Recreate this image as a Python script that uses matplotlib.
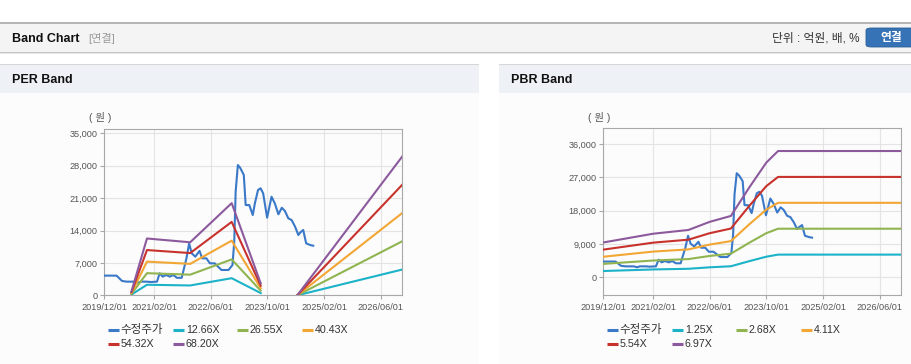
import numpy as np
import pandas as pd
import matplotlib
matplotlib.use("Agg")
import matplotlib.pyplot as plt
import matplotlib.dates as mdates
from matplotlib.patches import Rectangle, FancyBboxPatch
from matplotlib.lines import Line2D
from matplotlib.ticker import FuncFormatter

FONT = ['Liberation Sans', 'Noto Sans CJK KR']
plt.rcParams['font.family'] = FONT

# adjusted share price (수정주가)
price_dates = ['2019-12-01', '2020-03-15', '2020-05-01', '2020-06-10', '2020-08-20', '2020-09-15',
               '2020-10-10', '2020-12-01', '2021-01-01', '2021-02-25', '2021-03-20', '2021-04-15',
               '2021-05-15', '2021-06-15', '2021-07-15', '2021-08-15', '2021-09-25', '2021-11-05',
               '2021-11-28', '2021-12-20', '2022-01-20', '2022-02-25', '2022-03-20', '2022-04-25',
               '2022-05-25', '2022-07-05', '2022-09-01', '2022-11-01', '2022-12-05', '2022-12-20',
               '2023-01-01', '2023-01-20', '2023-02-10', '2023-03-12', '2023-03-28', '2023-04-28',
               '2023-05-28', '2023-06-15', '2023-07-12', '2023-08-03', '2023-08-25', '2023-09-28',
               '2023-11-05', '2023-12-03', '2024-01-03', '2024-02-01', '2024-02-28', '2024-03-28',
               '2024-04-25', '2024-05-25', '2024-06-22', '2024-07-10', '2024-08-03', '2024-08-28',
               '2024-10-01', '2024-10-28']
price = [4250, 4250, 3100, 2950, 2950, 2700,
         2950, 2950, 2870, 2950, 4750, 4030,
         4390, 4030, 4390, 3780, 3780, 7990,
         11230, 9070, 8340, 9600, 7990, 7990,
         6910, 6910, 5470, 5470, 6550, 11580,
         22380, 28150, 27500, 26000, 19500, 19500,
         17350, 19870, 22750, 23120, 22040, 16770,
         21300, 19870, 17500, 18920, 18200, 16630,
         16270, 14830, 13030, 13600, 14110, 11230,
         10870, 10720]

# EPS for the PER band (gap = negative earnings)
eps_dates = ['2020-07-21', '2020-12-01', '2021-12-07', '2022-11-28', '2023-08-04',
             '2024-01-01', '2024-06-13', '2026-12-01']
eps = [12, 180, 168, 292, 38, np.nan, 0, 440]
per_labels = ['12.66X', '26.55X', '40.43X', '54.32X', '68.20X']
per_mult = [12.66, 26.55, 40.43, 54.32, 68.20]

# BPS for the PBR band
bps_dates = ['2019-12-01', '2021-02-01', '2021-12-01', '2022-06-01', '2022-12-01',
             '2023-05-10', '2023-10-01', '2024-01-10', '2026-12-01']
bps = [1350, 1690, 1835, 2150, 2380, 3500, 4450, 4900, 4900]
pbr_labels = ['1.25X', '2.68X', '4.11X', '5.54X', '6.97X']
pbr_mult = [1.25, 2.68, 4.11, 5.54, 6.97]

tick_dates = ['2019-12-01', '2021-02-01', '2022-06-01', '2023-10-01', '2025-02-01', '2026-06-01']
per_yticks = [0, 7000, 14000, 21000, 28000, 35000]
pbr_yticks = [0, 9000, 18000, 27000, 36000]

price_color = '#3a78c8'
band_colors = ['#1cb2c8', '#8fb450', '#f2a634', '#c8322c', '#8c5a9c']

W, H = 912, 364
fig = plt.figure(figsize=(W / 100, H / 100), dpi=100)


def fx(x):
    return x / W


def fy(y):
    return 1 - y / H


def box(x0, y0, x1, y1, color):
    fig.add_artist(Rectangle((fx(x0), fy(y1)), (x1 - x0) / W, (y1 - y0) / H,
                             transform=fig.transFigure, facecolor=color, edgecolor='none', zorder=0))


# page chrome
box(0, 22, W, 23.5, '#b5b5b5')
box(0, 23.5, W, 52, '#f4f4f4')
box(0, 52, W, 53, '#c4c4c4')
box(0, 53, W, 54, '#e6e6e6')
for x0, x1 in [(0, 479), (499, W)]:
    box(x0, 63.5, x1, 65, '#d6d6d6')
    box(x0, 65, x1, 93, '#eef2f7')
    box(x0, 93, x1, H, '#fcfcfc')

fig.text(fx(12), fy(38.5), 'Band Chart', fontsize=9, fontweight='bold', color='#111111', va='center')
fig.text(fx(88), fy(38.5), '[연결]', fontsize=8, color='#9a9a9a', va='center')
fig.text(fx(860), fy(38.5), '단위 : 억원, 배, %', fontsize=8.5, color='#333333', va='center', ha='right')
fig.add_artist(FancyBboxPatch((fx(866), fy(47)), 52 / W, 19 / H, boxstyle='round,pad=0,rounding_size=0.006',
                              transform=fig.transFigure, facecolor='#3573b6', edgecolor='#2a5f98', lw=0.6))
fig.text(fx(891), fy(38), '연결', fontsize=8.5, fontweight='bold', color='white', va='center', ha='center')
fig.text(fx(12), fy(80), 'PER Band', fontsize=9, fontweight='bold', color='#111111', va='center')
fig.text(fx(511), fy(80), 'PBR Band', fontsize=9, fontweight='bold', color='#111111', va='center')


def band_panel(left, top, right, bottom, base_dates, base, mults, labels, yticks, ylim):
    ax = fig.add_axes([fx(left), fy(bottom), (right - left) / W, (bottom - top) / H])
    ax.set_facecolor('#fcfcfc')
    dates = pd.to_datetime(base_dates)
    ax.plot(pd.to_datetime(price_dates), price, color=price_color, lw=1.5, zorder=3)
    for m, c in zip(mults, band_colors):
        ax.plot(dates, np.array(base, dtype=float) * m, color=c, lw=1.5, zorder=3)
    ax.set_xlim(pd.Timestamp('2019-12-01'), pd.Timestamp('2026-12-01'))
    ax.set_ylim(*ylim)
    ax.set_xticks(pd.to_datetime(tick_dates))
    ax.xaxis.set_major_formatter(mdates.DateFormatter('%Y/%m/%d'))
    ax.set_yticks(yticks)
    ax.yaxis.set_major_formatter(FuncFormatter(lambda v, p: f'{v:,.0f}'))
    ax.grid(True, color='#e4e4e4', lw=0.8)
    ax.set_axisbelow(True)
    for s in ax.spines.values():
        s.set_color('#a8a8a8')
        s.set_linewidth(0.8)
    ax.tick_params(axis='both', length=3, width=0.8, color='#a8a8a8', labelsize=6.6,
                   labelcolor='#555555')
    ax.tick_params(axis='y', pad=2)
    ax.tick_params(axis='x', pad=2.5)
    fig.text(fx(left - 4), fy(118), '( 원 )', fontsize=7.5, color='#555555', ha='center', va='center')

    # legend, laid out like the web widget
    names = ['수정주가'] + labels
    colors = [price_color] + band_colors
    offsets = [3.5, 69, 133, 198]
    for i, (n, c) in enumerate(zip(names, colors)):
        x = left + offsets[i % 4]
        y = [330, 344][i // 4]
        fig.add_artist(Line2D([fx(x), fx(x + 11)], [fy(y), fy(y)], transform=fig.transFigure,
                              color=c, lw=2.2, solid_capstyle='butt'))
        fs = 8.3 if i == 0 else 7.7
        fig.text(fx(x + 12.5), fy(y), n, fontsize=fs, color='#333333', va='center')
    return ax


band_panel(104.3, 128.7, 402.3, 295.3, eps_dates, eps, per_mult, per_labels, per_yticks, (0, 36000))
band_panel(603.3, 128.3, 901, 295, bps_dates, bps, pbr_mult, pbr_labels, pbr_yticks, (-4800, 40300))

fig.savefig('out.png', dpi=100)
